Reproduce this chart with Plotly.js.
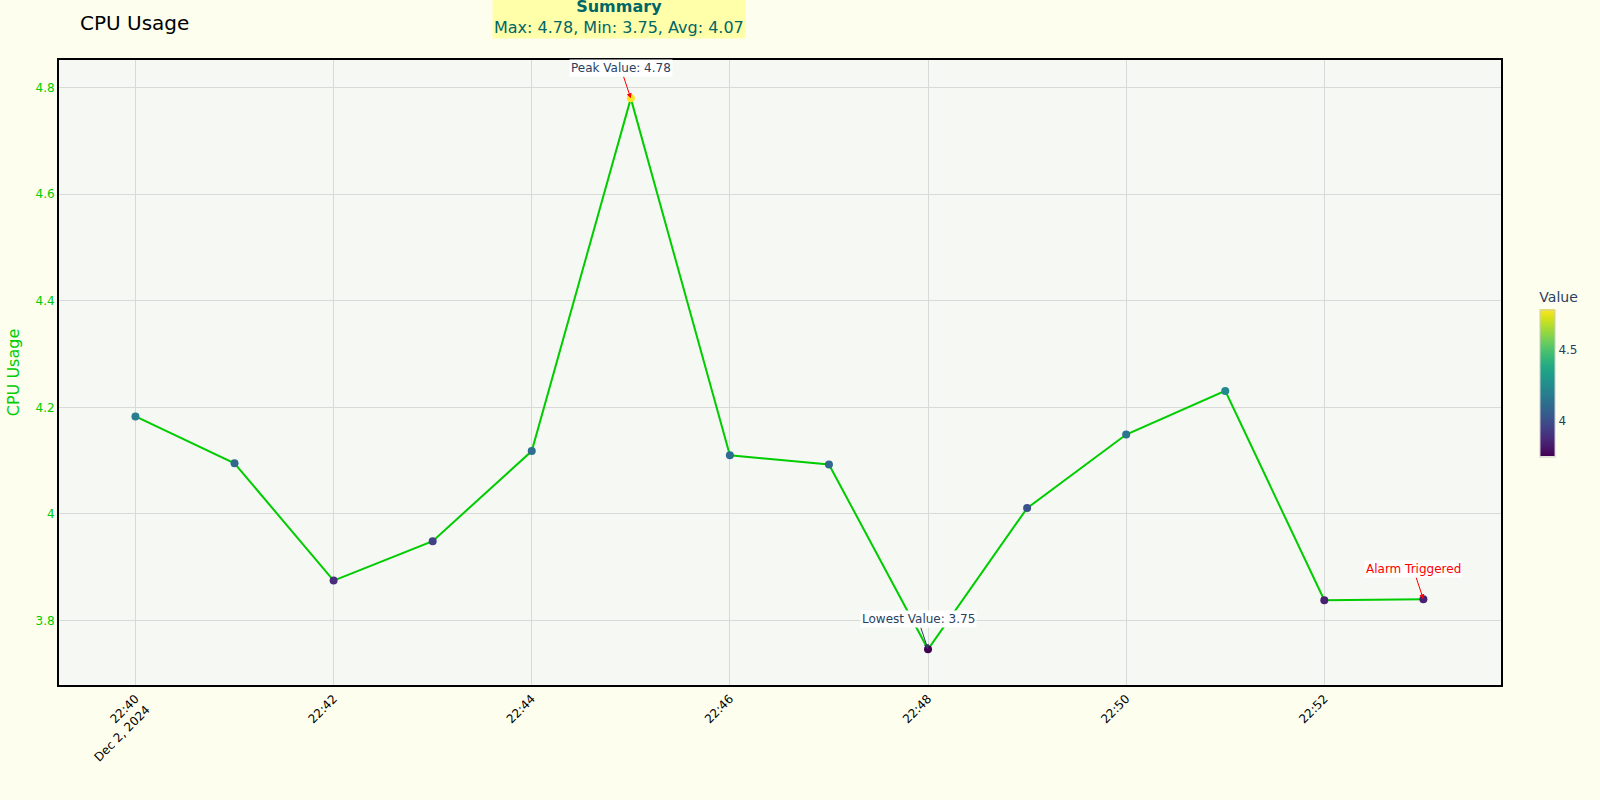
<!DOCTYPE html>
<html>
<head>
<meta charset="utf-8">
<script src="https://cdn.plot.ly/plotly-3.0.1.min.js"></script>
<style>html,body{margin:0;padding:0;background:#fdfeee;}#chart{width:1600px;height:800px;}</style>
</head>
<body>
<div id="chart"></div>
<script>
const times = ["2024-12-02 22:40","2024-12-02 22:41","2024-12-02 22:42","2024-12-02 22:43","2024-12-02 22:44","2024-12-02 22:45","2024-12-02 22:46","2024-12-02 22:47","2024-12-02 22:48","2024-12-02 22:49","2024-12-02 22:50","2024-12-02 22:51","2024-12-02 22:52","2024-12-02 22:53"];
const cpu = [4.183,4.095,3.875,3.949,4.118,4.78,4.110,4.093,3.746,4.011,4.149,4.231,3.838,3.840];
const seriesName = "CPU Usage";
const alarmIndex = 13;

const maxV = Math.max(...cpu), minV = Math.min(...cpu);
const avgV = cpu.reduce((a,b)=>a+b,0)/cpu.length;
const iMax = cpu.indexOf(maxV), iMin = cpu.indexOf(minV);

const trace = {
  x: times, y: cpu, type: "scatter", mode: "lines+markers", name: seriesName,
  line: {color: "#00cc00", width: 2},
  marker: {size: 8, color: cpu, colorscale: "Viridis", showscale: true,
    colorbar: {title: {text: "Value", side: "top"}, thickness: 15, len: 0.3, tickvals:[4,4.5], outlinewidth: 1, outlinecolor: "#ccc"}}
};

const layout = {
  width: 1600, height: 800,
  paper_bgcolor: "#fdfeee", plot_bgcolor: "#f5f8f3",
  font: {family: "DejaVu Sans, sans-serif", color: "#2a3f5f"},
  title: {text: "CPU Usage", x: 0.05, xanchor: "left", font: {size: 20, color: "#000"}},
  margin: {l: 59, r: 99, t: 60, b: 115},
  showlegend: false,
  xaxis: {type: "date", range: ["2024-12-02 22:39:13.7","2024-12-02 22:53:47"], dtick: 120000,
    tickangle: -45, tickfont: {size: 12, color: "#000"}, showline: true, linecolor: "#000", linewidth: 2, mirror: true,
    gridcolor: "#d9d9d9", zeroline: false},
  yaxis: {range: [3.679, 4.852], dtick: 0.2, title: {text: "CPU Usage", standoff: 12, font: {size: 16, color: "#00cc00"}},
    tickfont: {size: 12, color: "#00cc00"}, showline: true, linecolor: "#000", linewidth: 2, mirror: true,
    gridcolor: "#d9d9d9", zeroline: false},
  annotations: [
    {x: times[iMax], y: maxV, text: "Peak Value: " + maxV.toFixed(2), showarrow: true, arrowhead: 2, arrowsize: 1, arrowwidth: 1,
     arrowcolor: "red", ax: -10, ay: -30, bgcolor: "white", font: {size: 12, color: "#2a3f5f"}},
    {x: times[iMin], y: minV, text: "Lowest Value: " + minV.toFixed(2), showarrow: true, arrowhead: 2, arrowsize: 1, arrowwidth: 1,
     arrowcolor: "#2a3f5f", ax: -10, ay: -30, bgcolor: "white", font: {size: 12, color: "#2a3f5f"}},
    {x: times[alarmIndex], y: cpu[alarmIndex], text: "Alarm Triggered", showarrow: true, arrowhead: 2, arrowsize: 1, arrowwidth: 1,
     arrowcolor: "red", ax: -10, ay: -30, bgcolor: "white", font: {size: 12, color: "red"}},
    {xref: "paper", yref: "paper", x: 0.3, xanchor: "left", y: 1.034, yanchor: "bottom",
     text: "<b>Summary</b><br>Max: " + maxV.toFixed(2) + ", Min: " + minV.toFixed(2) + ", Avg: " + avgV.toFixed(2),
     showarrow: false, bgcolor: "#ffffaa", font: {size: 16, color: "#006666"}}
  ]
};

Plotly.newPlot("chart", [trace], layout, {displayModeBar: false});
</script>
</body>
</html>
